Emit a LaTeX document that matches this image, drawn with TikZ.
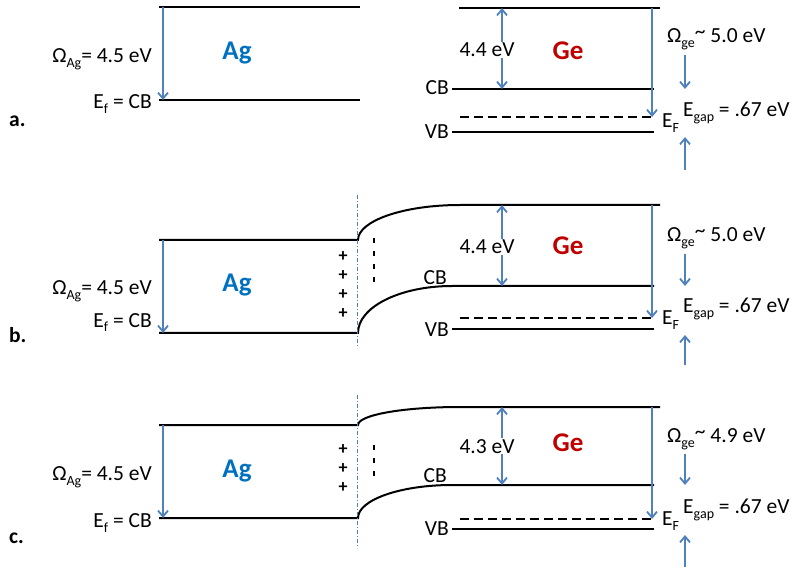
\documentclass[tikz,border=0pt]{standalone}
\usepackage{fontspec}
\setmainfont{Carlito}
\usetikzlibrary{positioning, arrows.meta, calc}
\definecolor{wfblue}{RGB}{79,129,189}
\definecolor{agblue}{RGB}{0,112,192}
\definecolor{gered}{RGB}{192,0,0}
\newcommand{\lo}[1]{\raisebox{-5pt}{\fontsize{14}{14}\selectfont #1}}
\newcommand{\tld}{\raisebox{4pt}{\textasciitilde}}

\begin{document}
\begin{tikzpicture}[x=1pt, y=-1pt, >={Straight Barb[length=6pt, width=10pt]},
    every node/.style={inner sep=0pt, font=\fontsize{21.5}{24}\selectfont},
    band/.style={line width=2pt},
    fermi/.style={line width=2pt, dash pattern=on 9pt off 5pt},
    wf/.style={->, wfblue, line width=1.8pt},
    iface/.style={wfblue, line width=0.8pt, dash pattern=on 4pt off 2pt on 1pt off 2pt},
    neg/.style={line width=1.5pt, dash pattern=on 5pt off 8pt},
    plusses/.style={align=center, font=\fontsize{18}{18.7}\selectfont\bfseries},
    lbl/.style={anchor=base east},
    rlbl/.style={anchor=base west},
    metal/.style={anchor=base, text=agblue, font=\fontsize{27}{30}\selectfont\bfseries},
    semi/.style={anchor=base, text=gered, font=\fontsize{27}{30}\selectfont\bfseries},
    tag/.style={anchor=base west, font=\fontsize{21.5}{24}\selectfont\bfseries},
    gapval/.style={anchor=base, fill=white, inner sep=1pt}]
  \useasboundingbox (0,0) rectangle (790,569);
  \coordinate (mcol) at (163,0);
  \coordinate (dcol) at (502,0);
  \coordinate (wcol) at (652,0);
  \coordinate (gcol) at (685,0);

  % a.
  \node[tag] (tagA) at (9,127) {a.};
  \draw[band] (159,7) coordinate (agTopA) -- (360,7);
  \draw[band] (159,100) coordinate (agBotA) -- (360,100);
  \draw[wf] (agTopA -| mcol) -- (agBotA -| mcol);
  \node[lbl] (omAgA) at (152,63) {Ω\lo{Ag}= 4.5 eV};
  \node[lbl] (efAgA) at (152,109) {E\lo{f} = CB};
  \node[metal] (agA) at (237,60) {Ag};
  \draw[band] (459,8) coordinate (geTopA) -- (660,8);
  \draw[band] (452,89) coordinate (cbA) -- (654,89);
  \draw[fermi] (460,117) coordinate (efA) -- (653,117);
  \draw[band] (452,132) coordinate (vbA) -- (654,132);
  \node[lbl] (cbLabA) at (449,95) {CB};
  \node[lbl] (vbLabA) at (449,139) {VB};
  \draw[wf, <->] (geTopA -| dcol) -- (cbA -| dcol);
  \node[gapval] (dA) at (487,57) {4.4 eV};
  \node[semi] (geA) at (568,60) {Ge};
  \draw[wf] (geTopA -| wcol) -- (efA -| wcol);
  \node[rlbl] (omGeA) at (667,43) {Ω\lo{ge}\tld{} 5.0 eV};
  \node[rlbl] (efLabA) at (662,128) {E\lo{F}};
  \node[rlbl] (egA) at (683,117) {E\lo{gap} = .67 eV};
  \draw[wf, shorten <=4pt] (omGeA.south -| gcol) -- (cbA -| gcol);
  \draw[wf] ($(vbA -| gcol)+(0,38)$) -- ($(vbA -| gcol)+(0,5)$);

  % b.
  \node[tag] (tagB) at (9,342) {b.};
  \draw[band] (159,240) coordinate (agTopB) -- (358,240)
    .. controls (358,221) and (403,205) .. (460,205) coordinate (geTopB) -- (660,205);
  \draw[band] (159,333) coordinate (agBotB) -- (358,333)
    .. controls (358,307) and (400,286) .. (452,286) coordinate (cbB) -- (654,286);
  \draw[fermi] (460,318) coordinate (efB) -- (653,318);
  \draw[band] (452,329) coordinate (vbB) -- (654,329);
  \draw[iface] (357,195) coordinate (ifTopB) -- (357,347) coordinate (ifBotB);
  \draw[wf] (agTopB -| mcol) -- (agBotB -| mcol);
  \node[lbl] (omAgB) at (152,295) {Ω\lo{Ag}= 4.5 eV};
  \node[lbl] (efAgB) at (152,327) {E\lo{f} = CB};
  \node[metal] (agB) at (237,292) {Ag};
  \node[plusses] (posB) at (343,285) {+\\+\\+\\+};
  \draw[neg] (374,238) coordinate (negB) -- (374,283);
  \node[lbl] (cbLabB) at (447,285) {CB};
  \node[lbl] (vbLabB) at (449,337) {VB};
  \draw[wf, <->] (geTopB -| dcol) -- (cbB -| dcol);
  \node[gapval] (dB) at (487,254) {4.4 eV};
  \node[semi] (geB) at (568,255) {Ge};
  \draw[wf] (geTopB -| wcol) -- (efB -| wcol);
  \node[rlbl] (omGeB) at (667,242) {Ω\lo{ge}\tld{} 5.0 eV};
  \node[rlbl] (efLabB) at (662,325) {E\lo{F}};
  \node[rlbl] (egB) at (683,313) {E\lo{gap} = .67 eV};
  \draw[wf, shorten <=4pt] (omGeB.south -| gcol) -- (cbB -| gcol);
  \draw[wf] ($(vbB -| gcol)+(0,36)$) -- ($(vbB -| gcol)+(0,6)$);

  % c.
  \node[tag] (tagC) at (9,543) {c.};
  \draw[band] (159,425) coordinate (agTopC) -- (358,425)
    .. controls (358,415) and (403,407) .. (460,407) coordinate (geTopC) -- (660,407);
  \draw[band] (159,518) coordinate (agBotC) -- (358,518)
    .. controls (358,500) and (400,485) .. (452,485) coordinate (cbC) -- (654,485);
  \draw[fermi] (460,519) coordinate (efC) -- (653,519);
  \draw[band] (452,529) coordinate (vbC) -- (654,529);
  \draw[iface] (357,395) coordinate (ifTopC) -- (357,548) coordinate (ifBotC);
  \draw[wf] (agTopC -| mcol) -- (agBotC -| mcol);
  \node[lbl] (omAgC) at (152,480) {Ω\lo{Ag}= 4.5 eV};
  \node[lbl] (efAgC) at (152,527) {E\lo{f} = CB};
  \node[metal] (agC) at (237,477) {Ag};
  \node[plusses] (posC) at (343,468.5) {+\\+\\+};
  \draw[neg] (374,445) coordinate (negC) -- (374,477);
  \node[lbl] (cbLabC) at (447,482) {CB};
  \node[lbl] (vbLabC) at (449,535) {VB};
  \draw[wf, <->] (geTopC -| dcol) -- (cbC -| dcol);
  \node[gapval] (dC) at (487,453) {4.3 eV};
  \node[semi] (geC) at (568,451) {Ge};
  \draw[wf] (geTopC -| wcol) -- (efC -| wcol);
  \node[rlbl] (omGeC) at (667,442) {Ω\lo{ge}\tld{} 4.9 eV};
  \node[rlbl] (efLabC) at (662,525) {E\lo{F}};
  \node[rlbl] (egC) at (683,513) {E\lo{gap} = .67 eV};
  \draw[wf, shorten <=4pt] (omGeC.south -| gcol) -- (cbC -| gcol);
  \draw[wf] ($(vbC -| gcol)+(0,38)$) -- ($(vbC -| gcol)+(0,6)$);
\end{tikzpicture}
\end{document}
